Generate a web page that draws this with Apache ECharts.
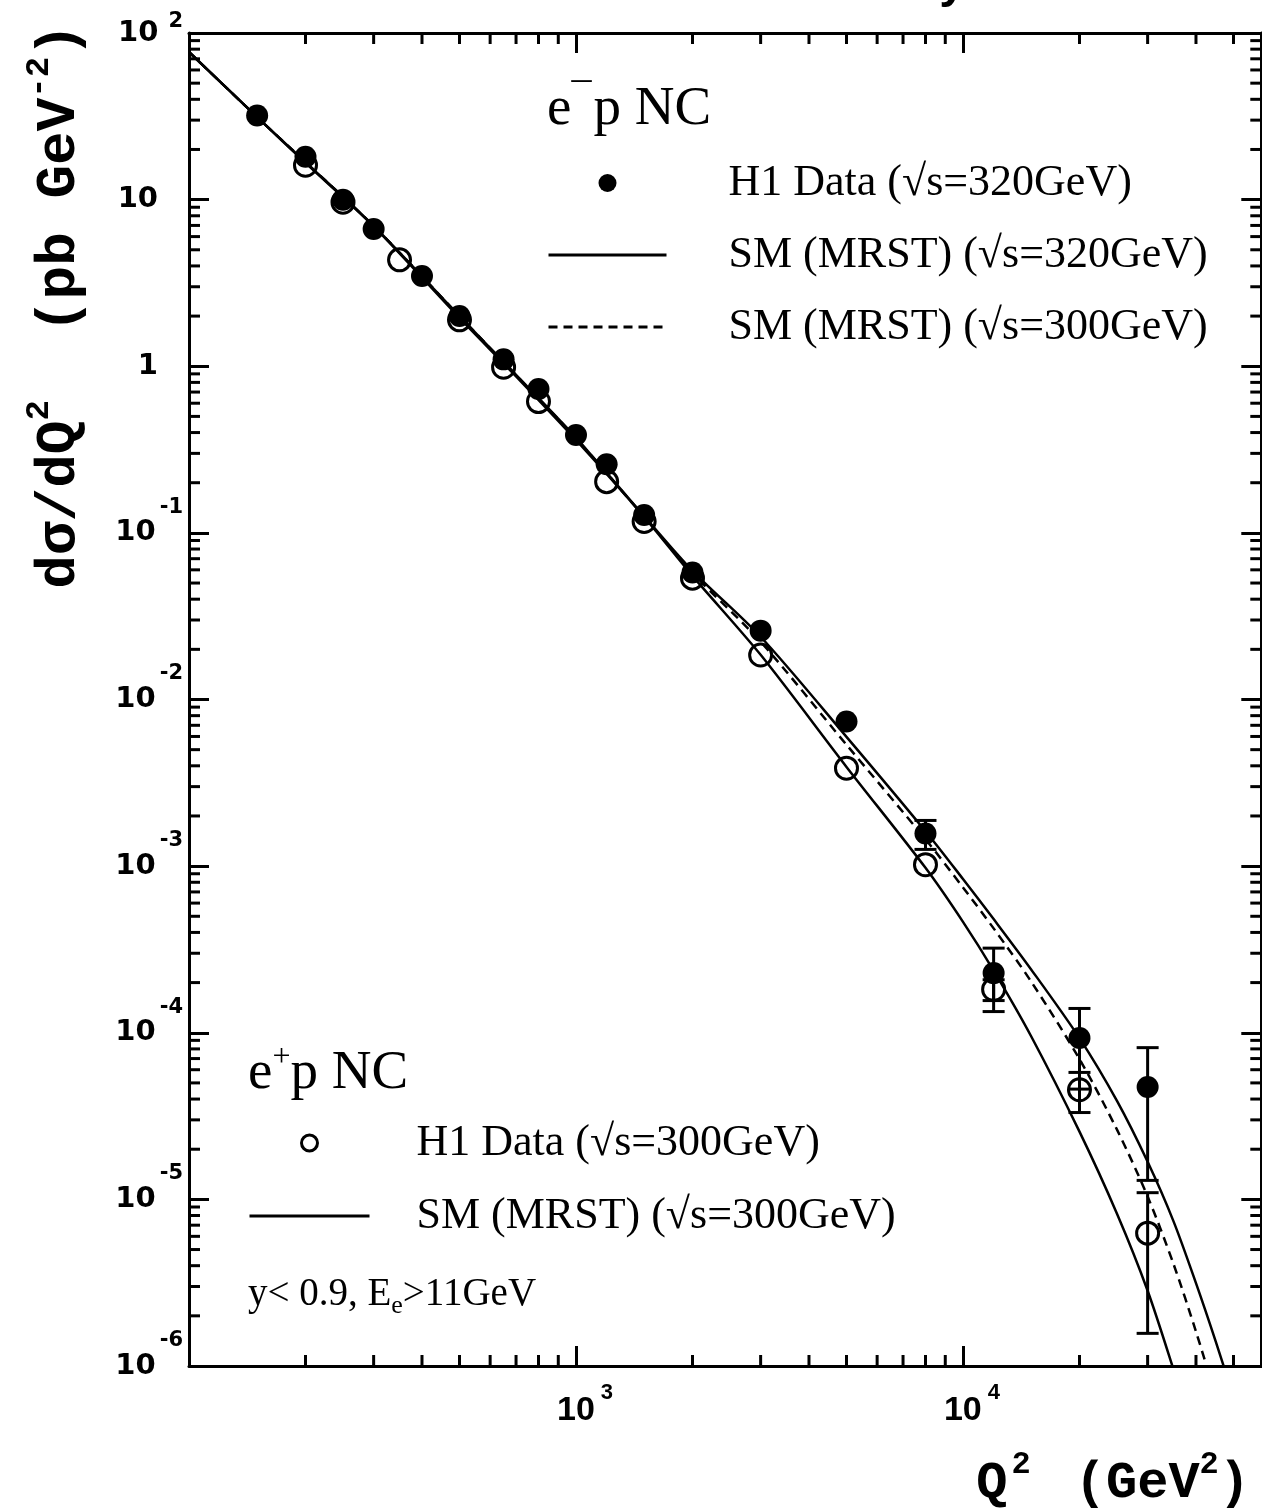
<!DOCTYPE html>
<html>
<head>
<meta charset="utf-8">
<script src="https://cdn.jsdelivr.net/npm/echarts@6/dist/echarts.min.js"></script>
<style>
  html, body { margin: 0; padding: 0; background: #fff; }
  #chart { width: 1262px; height: 1512px; }
</style>
</head>
<body>
<div id="chart"></div>
<script>
// ---- H1 NC cross section dσ/dQ² (pb GeV⁻²) ----

// e⁻p data, √s = 320 GeV
const Q2_EMINUS = [150, 200, 250, 300, 400, 500, 650, 800, 1000, 1200, 1500, 2000, 3000, 5000, 8000, 12000, 20000, 30000];
const XS_EMINUS = [32.0, 18.1, 10.0, 6.67, 3.48, 2.00, 1.10, 0.731, 0.387, 0.258, 0.128, 0.0578, 0.0259, 0.00738, 0.00157, 2.28e-4, 9.29e-5, 4.72e-5];
const ERR_EMINUS = [null, null, null, null, null, null, null, null, null, null, null, null, null, null, 3.1e-4, 9.4e-5, 4.7e-5, 3.42e-5];

// e⁺p data, √s = 300 GeV
const Q2_EPLUS = [200, 250, 350, 500, 650, 800, 1200, 1500, 2000, 3000, 5000, 8000, 12000, 20000, 30000];
const XS_EPLUS = [16.1, 9.65, 4.35, 1.90, 0.987, 0.614, 0.203, 0.117, 0.0535, 0.0185, 0.00387, 1.02e-3, 1.82e-4, 4.55e-5, 6.27e-6];
const ERR_EPLUS = [null, null, null, null, null, null, null, null, null, null, null, null, 2.6e-5, 1.23e-5, 4.7e-6];

// Standard Model (MRST) predictions
const Q2_CURVE = [100, 150, 200, 300, 500, 700, 1000, 1500, 2000, 3000, 5000, 8000, 10000, 12000, 15000, 20000, 25000, 30000, 35000, 40000, 45000, 50000];
const SM_EMINUS_320 = [76.9, 31.3, 16.8, 6.95, 2.00, 0.887, 0.372, 0.126, 0.0592, 0.0238, 0.00597, 1.62e-3, 8.37e-4, 4.81e-4, 2.40e-4, 9.29e-5, 3.90e-5, 1.68e-5, 7.38e-6, 3.14e-6, 1.40e-6, 6.49e-7];
const SM_EMINUS_300 = [76.9, 31.3, 16.8, 6.95, 2.00, 0.885, 0.370, 0.125, 0.0575, 0.0222, 0.00535, 1.45e-3, 7.45e-4, 4.23e-4, 2.03e-4, 6.95e-5, 2.62e-5, 1.04e-5, 4.09e-6, 1.61e-6, 6.53e-7, null];
const SM_EPLUS_300 = [76.9, 31.3, 16.6, 6.90, 1.95, 0.870, 0.361, 0.1247, 0.0552, 0.01854, 3.94e-3, 9.77e-4, 4.63e-4, 2.36e-4, 9.53e-5, 2.55e-5, 8.20e-6, 2.83e-6, 9.5e-7, 3.47e-7, null, null];

// axis ranges
const X_MIN = 100, X_MAX = 59000;
const Y_MIN = 1e-6, Y_MAX = 100;

// minor tick positions (2..9 × 10^k)
const X_MINOR = [];
for (const d of [100, 1000, 10000]) for (let m = 2; m <= 9; m++) if (m * d < X_MAX) X_MINOR.push(m * d);
const Y_MINOR = [];
for (let e = -6; e < 2; e++) for (let m = 2; m <= 9; m++) Y_MINOR.push(m * Math.pow(10, e));

const SANS = '"Liberation Sans", Arial, Helvetica, sans-serif';
const WIDE = '"DejaVu Sans", Verdana, sans-serif';
const SERIF = '"Liberation Serif", "Times New Roman", serif';
const MONO = '"Liberation Mono", "Courier New", monospace';
const INK = '#000';

const pairs = (xs, ys) => xs.map((x, i) => [x, ys[i]]).filter(p => p[1] != null);
const bars = (xs, ys, es) => xs.map((x, i) => es[i] == null ? null : [x, ys[i] - es[i], ys[i] + es[i]]).filter(Boolean);

function errorBarItem(params, api) {
  const x = api.value(0);
  const lo = api.coord([x, api.value(1)]);
  const hi = api.coord([x, api.value(2)]);
  const cap = 11;
  const st = { stroke: INK, lineWidth: 3 };
  return {
    type: 'group',
    children: [
      { type: 'line', shape: { x1: lo[0], y1: lo[1], x2: hi[0], y2: hi[1] }, style: st },
      { type: 'line', shape: { x1: lo[0] - cap, y1: lo[1], x2: lo[0] + cap, y2: lo[1] }, style: st },
      { type: 'line', shape: { x1: hi[0] - cap, y1: hi[1], x2: hi[0] + cap, y2: hi[1] }, style: st }
    ]
  };
}

// minor ticks on all four frame sides
function xMinorItem(params, api) {
  const cs = params.coordSys;
  const x = api.coord([api.value(0), 1])[0];
  const st = { stroke: INK, lineWidth: 3 };
  return {
    type: 'group',
    children: [
      { type: 'line', shape: { x1: x, y1: cs.y + cs.height, x2: x, y2: cs.y + cs.height - 11 }, style: st },
      { type: 'line', shape: { x1: x, y1: cs.y, x2: x, y2: cs.y + 11 }, style: st }
    ]
  };
}
function yMinorItem(params, api) {
  const cs = params.coordSys;
  const y = api.coord([1000, api.value(1)])[1];
  const st = { stroke: INK, lineWidth: 3 };
  return {
    type: 'group',
    children: [
      { type: 'line', shape: { x1: cs.x, y1: y, x2: cs.x + 11, y2: y }, style: st },
      { type: 'line', shape: { x1: cs.x + cs.width, y1: y, x2: cs.x + cs.width - 11, y2: y }, style: st }
    ]
  };
}

const frameLine = { show: true, onZero: false, lineStyle: { color: INK, width: 3 } };
const majorTick = { show: true, inside: true, length: 20, lineStyle: { color: INK, width: 3 } };
const hiddenDot = { opacity: 0 };

const chart = echarts.init(document.getElementById('chart'), null, { renderer: 'canvas' });

chart.setOption({
  animation: false,
  backgroundColor: '#fff',
  grid: { left: 189, top: 33, width: 1072.3, height: 1333, outerBoundsMode: 'none', containLabel: false },
  xAxis: [
    {
      type: 'log', logBase: 10, min: X_MIN, max: X_MAX, position: 'bottom',
      axisLine: frameLine, axisTick: majorTick, splitLine: { show: false }, minorTick: { show: false },
      axisLabel: {
        margin: 16,
        formatter: function (v) {
          const e = Math.log10(v);
          if (Math.abs(e - Math.round(e)) > 1e-6 || Math.round(e) < 3) return '';
          return '{q|}{b|10}{s|' + Math.round(e) + '}';
        },
        rich: {
          q: { width: 18, lineHeight: 16 },
          b: { fontFamily: SANS, fontWeight: 'bold', fontSize: 34, lineHeight: 57, color: INK },
          s: { fontFamily: SANS, fontWeight: 'bold', fontSize: 22, lineHeight: 16, verticalAlign: 'top', padding: [0, 0, 0, 6], color: INK }
        }
      }
    },
    {
      type: 'log', logBase: 10, min: X_MIN, max: X_MAX, position: 'top',
      axisLine: frameLine, axisTick: majorTick, axisLabel: { show: false }, splitLine: { show: false }
    }
  ],
  yAxis: [
    {
      type: 'log', logBase: 10, min: Y_MIN, max: Y_MAX, position: 'left',
      axisLine: frameLine, axisTick: majorTick, splitLine: { show: false }, minorTick: { show: false },
      axisLabel: {
        margin: 6,
        formatter: function (v) {
          const e = Math.round(Math.log10(v));
          if (e === 0) return '{b|1}{z|}';
          if (e === 1) return '{b|10}{z|}';
          if (e === 2) return '{b|10}{p|2}';
          return '{b|10}{s|' + e + '}';
        },
        rich: {
          b: { fontFamily: WIDE, fontWeight: 'bold', fontSize: 29, lineHeight: 72, color: INK },
          s: { fontFamily: WIDE, fontWeight: 'bold', fontSize: 21, lineHeight: 16, verticalAlign: 'top', padding: [0, 0, 0, 4], color: INK },
          p: { fontFamily: WIDE, fontWeight: 'bold', fontSize: 21, lineHeight: 16, verticalAlign: 'top', padding: [14, 0, 0, 10], color: INK },
          z: { width: 25, lineHeight: 16 }
        }
      }
    },
    {
      type: 'log', logBase: 10, min: Y_MIN, max: Y_MAX, position: 'right',
      axisLine: frameLine, axisTick: majorTick, axisLabel: { show: false }, splitLine: { show: false }
    }
  ],
  legend: [
    {
      left: 547, top: 161, orient: 'vertical', padding: 0, itemGap: 28,
      itemWidth: 118, itemHeight: 18, selectedMode: false,
      formatter: n => n.slice(4),
      textStyle: { fontFamily: SERIF, fontSize: 44, lineHeight: 44, color: INK, padding: [0, 0, 0, 57] },
      lineStyle: { width: 3 },
      data: [
        { name: 'e-p H1 Data (√s=320GeV)', icon: 'circle', itemStyle: { color: INK, opacity: 1 } },
        { name: 'e-p SM (MRST) (√s=320GeV)', itemStyle: hiddenDot },
        { name: 'e-p SM (MRST) (√s=300GeV)', itemStyle: hiddenDot }
      ]
    },
    {
      left: 248, top: 1121, orient: 'vertical', padding: 0, itemGap: 29,
      itemWidth: 120, itemHeight: 16, selectedMode: false,
      formatter: n => n.slice(4),
      textStyle: { fontFamily: SERIF, fontSize: 44, lineHeight: 44, color: INK, padding: [0, 0, 0, 42] },
      lineStyle: { width: 3 },
      data: [
        { name: 'e+p H1 Data (√s=300GeV)', icon: 'circle', itemStyle: { color: 'transparent', borderColor: INK, borderWidth: 3, opacity: 1 } },
        { name: 'e+p SM (MRST) (√s=300GeV)', itemStyle: hiddenDot }
      ]
    }
  ],
  graphic: [
    // plot title, mostly above the visible page
    { type: 'text', x: 966, y: 8, silent: true,
      style: { text: 'H1 Preliminary', align: 'right', verticalAlign: 'bottom', fill: INK,
               font: 'bold 48px ' + SANS } },
    { type: 'text', x: 547, y: 110, silent: true,
      style: { text: '{a|e}{u|¯}{a|p NC}', align: 'left', verticalAlign: 'middle',
               rich: { a: { fontFamily: SERIF, fontSize: 55, lineHeight: 64, fill: INK },
                       u: { fontFamily: SERIF, fontSize: 40, lineHeight: 30, verticalAlign: 'top', padding: [2, 2, 0, 0], fill: INK } } } },
    { type: 'text', x: 248, y: 1074, silent: true,
      style: { text: '{a|e}{u|+}{a|p NC}', align: 'left', verticalAlign: 'middle',
               rich: { a: { fontFamily: SERIF, fontSize: 55, lineHeight: 64, fill: INK },
                       u: { fontFamily: SERIF, fontSize: 32, lineHeight: 30, verticalAlign: 'top', fill: INK } } } },
    { type: 'text', x: 248, y: 1295, silent: true,
      style: { text: '{a|y< 0.9, E}{e|e}{a|>11GeV}', align: 'left', verticalAlign: 'middle',
               rich: { a: { fontFamily: SERIF, fontSize: 39, lineHeight: 48, fill: INK },
                       e: { fontFamily: SERIF, fontSize: 26, lineHeight: 24, verticalAlign: 'bottom', fill: INK } } } },
    // axis titles
    { type: 'text', x: 1250, y: 1484, silent: true,
      style: { text: '{m|Q}{q|2}{g|}{m|(GeV}{s|2}{m|)}', align: 'right', verticalAlign: 'middle',
               rich: { m: { fontFamily: MONO, fontWeight: 'bold', fontSize: 52, lineHeight: 70, fill: INK },
                       q: { fontFamily: MONO, fontWeight: 'bold', fontSize: 32, lineHeight: 32, verticalAlign: 'top', padding: [0, 0, 0, 4], fill: INK },
                       g: { width: 44, lineHeight: 32 },
                       s: { fontFamily: MONO, fontWeight: 'bold', fontSize: 32, lineHeight: 32, verticalAlign: 'top', fill: INK } } } },
    { type: 'text', x: 60, y: 306, rotation: Math.PI / 2, silent: true,
      style: { text: '{m|dσ/dQ}{s|2}{m|  (pb GeV}{s|-2}{m|)}', align: 'center', verticalAlign: 'middle',
               rich: { m: { fontFamily: MONO, fontWeight: 'bold', fontSize: 56, lineHeight: 76, fill: INK },
                       s: { fontFamily: MONO, fontWeight: 'bold', fontSize: 34, lineHeight: 34, verticalAlign: 'top', fill: INK } } } }
  ],
  series: [
    { type: 'custom', name: 'xminor', silent: true, z: 1, renderItem: xMinorItem, data: X_MINOR.map(v => [v, 1]), encode: { x: 0, y: 1 } },
    { type: 'custom', name: 'yminor', silent: true, z: 1, renderItem: yMinorItem, data: Y_MINOR.map(v => [1000, v]), encode: { x: 0, y: 1 } },
    {
      type: 'line', name: 'e-p SM (MRST) (√s=320GeV)', data: pairs(Q2_CURVE, SM_EMINUS_320),
      showSymbol: false, symbol: 'none', smooth: 0.3, z: 2, silent: true,
      itemStyle: { color: INK }, lineStyle: { color: INK, width: 2.5 }
    },
    {
      type: 'line', name: 'e-p SM (MRST) (√s=300GeV)', data: pairs(Q2_CURVE, SM_EMINUS_300),
      showSymbol: false, symbol: 'none', smooth: 0.3, z: 2, silent: true,
      itemStyle: { color: INK }, lineStyle: { color: INK, width: 2.5, type: [9, 6] }
    },
    {
      type: 'line', name: 'e+p SM (MRST) (√s=300GeV)', data: pairs(Q2_CURVE, SM_EPLUS_300),
      showSymbol: false, symbol: 'none', smooth: 0.3, z: 2, silent: true,
      itemStyle: { color: INK }, lineStyle: { color: INK, width: 2.5 }
    },
    { type: 'custom', name: 'e-p errors', silent: true, z: 3, renderItem: errorBarItem,
      data: bars(Q2_EMINUS, XS_EMINUS, ERR_EMINUS), encode: { x: 0, y: [1, 2] } },
    { type: 'custom', name: 'e+p errors', silent: true, z: 3, renderItem: errorBarItem,
      data: bars(Q2_EPLUS, XS_EPLUS, ERR_EPLUS), encode: { x: 0, y: [1, 2] } },
    {
      type: 'scatter', name: 'e-p H1 Data (√s=320GeV)', data: pairs(Q2_EMINUS, XS_EMINUS),
      symbol: 'circle', symbolSize: 22, z: 4, silent: true,
      itemStyle: { color: INK, opacity: 1 }
    },
    {
      type: 'scatter', name: 'e+p H1 Data (√s=300GeV)', data: pairs(Q2_EPLUS, XS_EPLUS),
      symbol: 'circle', symbolSize: 22, z: 4, silent: true,
      itemStyle: { color: 'transparent', borderColor: INK, borderWidth: 3, opacity: 1 }
    }
  ]
});
</script>
</body>
</html>
